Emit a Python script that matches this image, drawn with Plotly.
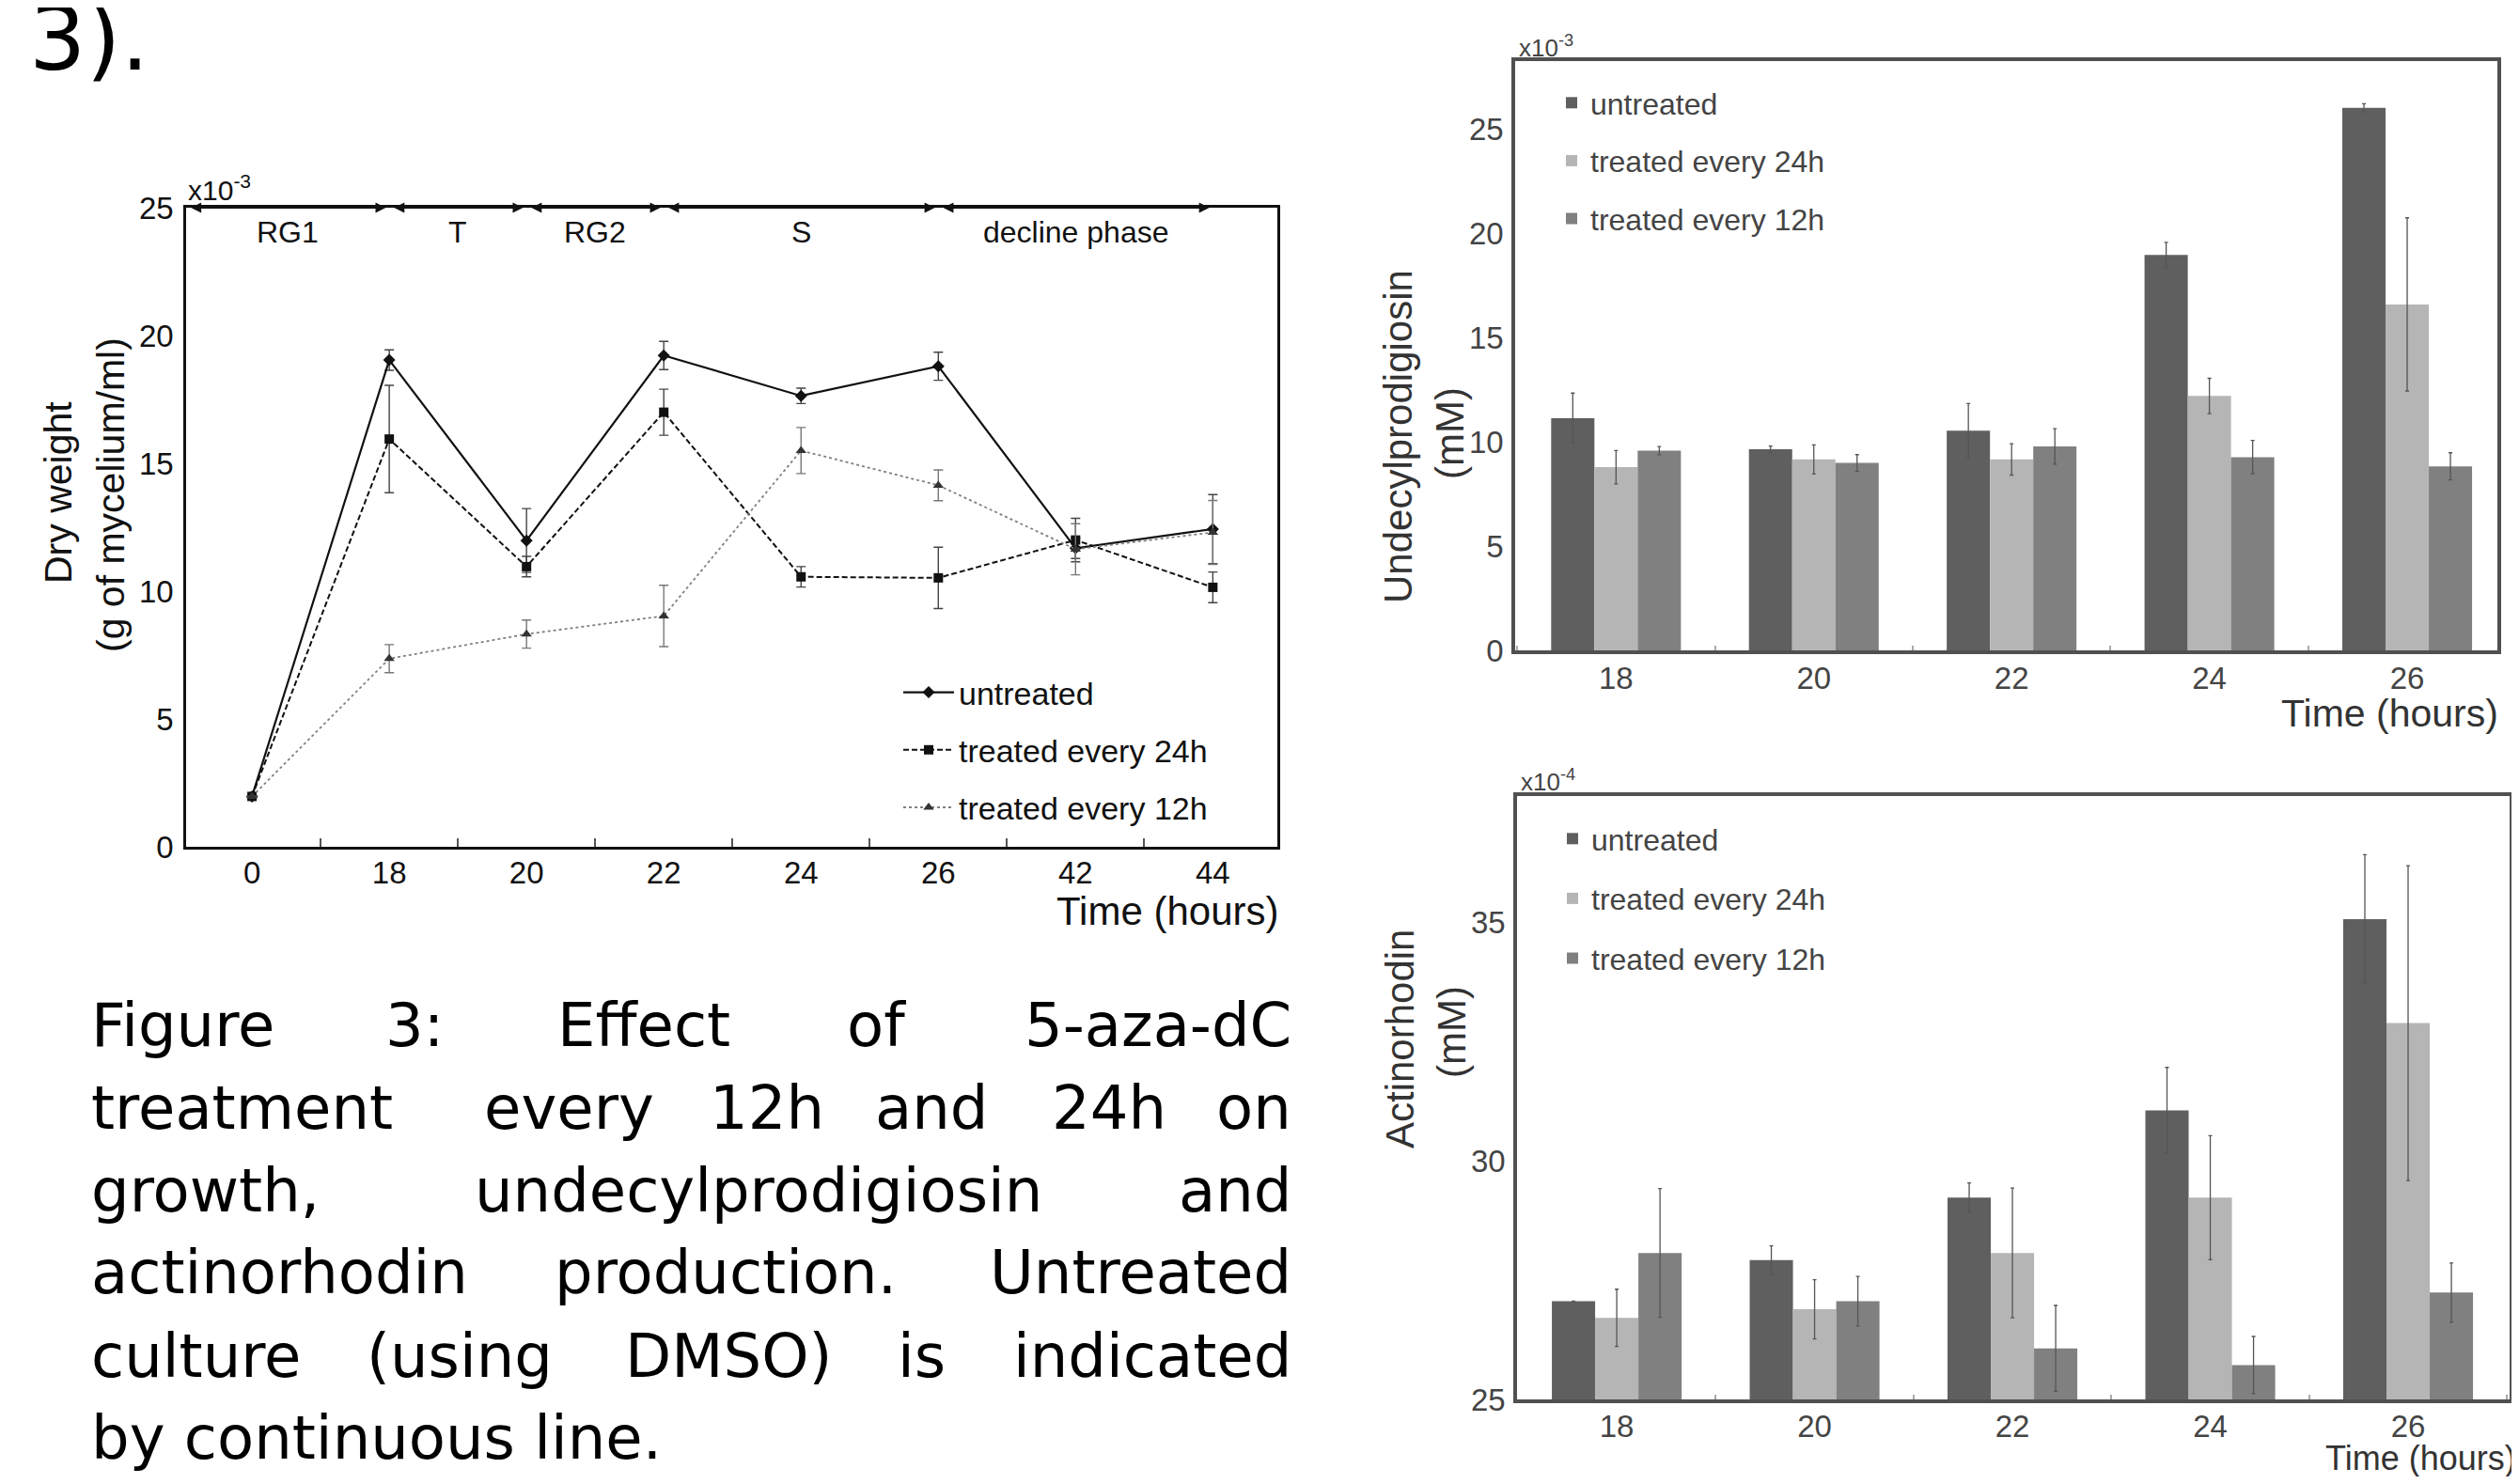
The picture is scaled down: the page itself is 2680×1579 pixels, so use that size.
import plotly.graph_objects as go

# page is 2680x1579; the html body keeps an 8px margin, so the figure is
# drawn 16px smaller and all reference pixel positions are shifted by 8px.
PAGE_W, PAGE_H = 2680, 1579
OFF = 8
W, H = PAGE_W - 2 * OFF, PAGE_H - 2 * OFF

# ---------------- data ----------------
growth_times = ["0", "18", "20", "22", "24", "26", "42", "44"]
growth_untreated = [1.97, 19.04, 11.98, 19.22, 17.64, 18.80, 11.68, 12.43]
growth_untreated_err = [0.0, 0.4, 1.25, 0.55, 0.3, 0.55, 0.4, 1.35]
growth_24h = [1.97, 15.95, 10.96, 17.00, 10.56, 10.52, 12.00, 10.15]
growth_24h_err = [0.0, 2.1, 0.4, 0.9, 0.4, 1.2, 0.85, 0.6]
growth_12h = [1.97, 7.36, 8.32, 9.03, 15.50, 14.14, 11.64, 12.30]
growth_12h_err = [0.0, 0.55, 0.55, 1.2, 0.9, 0.6, 1.0, 1.25]

phase_labels = ["RG1", "T", "RG2", "S", "decline phase"]
phase_ends = ["18", "20", "22", "26", "44"]

bar_times = ["18", "20", "22", "24", "26"]
undec_untreated = [11.13, 9.64, 10.53, 18.95, 26.0]
undec_untreated_err = [1.2, 0.15, 1.3, 0.6, 0.2]
undec_24h = [8.78, 9.15, 9.15, 12.19, 16.58]
undec_24h_err = [0.8, 0.7, 0.75, 0.85, 4.15]
undec_12h = [9.57, 8.98, 9.77, 9.26, 8.82]
undec_12h_err = [0.2, 0.4, 0.85, 0.8, 0.65]

act_untreated = [27.06, 27.92, 29.23, 31.06, 35.07]
act_untreated_err = [0.0, 0.3, 0.31, 0.9, 1.35]
act_24h = [26.71, 26.89, 28.07, 29.23, 32.89]
act_24h_err = [0.6, 0.62, 1.36, 1.3, 3.3]
act_12h = [28.07, 27.06, 26.07, 25.72, 27.24]
act_12h_err = [1.35, 0.52, 0.9, 0.6, 0.62]

series_names = ["untreated", "treated every 24h", "treated every 12h"]

caption_lines = [
    ["Figure", "3:", "Effect", "of", "5-aza-dC"],
    ["treatment", "every", "12h", "and", "24h", "on"],
    ["growth,", "undecylprodigiosin", "and"],
    ["actinorhodin", "production.", "Untreated"],
    ["culture", "(using", "DMSO)", "is", "indicated"],
    ["by continuous line."],
]

# ---------------- layout helpers ----------------
def px(x):
    return (x - OFF) / W

def py(y):
    return 1 - (y - OFF) / H

ARIAL = "Liberation Sans, Arial, sans-serif"
CAPFONT = "DejaVu Sans, sans-serif"

fig = go.Figure()

# ---------------- left: growth line chart ----------------
line_styles = [
    dict(color="#111111", width=2.2, dash="solid"),
    dict(color="#111111", width=2.0, dash="6px,3px"),
    dict(color="#808080", width=1.8, dash="dot"),
]
marker_styles = [
    dict(symbol="diamond", size=10, color="#111111"),
    dict(symbol="square", size=10, color="#111111"),
    dict(symbol="triangle-up", size=10, color="#333333"),
]
err_colors = ["#444444", "#444444", "#777777"]
for i, (vals, errs) in enumerate([(growth_untreated, growth_untreated_err),
                                  (growth_24h, growth_24h_err),
                                  (growth_12h, growth_12h_err)]):
    fig.add_trace(go.Scatter(
        x=growth_times, y=vals, mode="lines+markers", name=series_names[i],
        line=line_styles[i], marker=marker_styles[i],
        error_y=dict(type="data", array=errs, visible=True, thickness=1.4,
                     width=5, color=err_colors[i]),
        xaxis="x", yaxis="y", legend="legend", legendgroup="g%d" % i,
    ))

# ---------------- right: bar charts ----------------
bar_colors = ["#5f5f5f", "#b5b5b5", "#808080"]
for i, (vals, errs) in enumerate([(undec_untreated, undec_untreated_err),
                                  (undec_24h, undec_24h_err),
                                  (undec_12h, undec_12h_err)]):
    fig.add_trace(go.Bar(
        x=bar_times, y=vals, name=series_names[i], marker_color=bar_colors[i],
        marker_line_width=0,
        error_y=dict(type="data", array=errs, visible=True, thickness=1.3,
                     width=2, color="#555555"),
        xaxis="x2", yaxis="y2", legend="legend2", legendgroup="b%d" % i,
    ))
for i, (vals, errs) in enumerate([(act_untreated, act_untreated_err),
                                  (act_24h, act_24h_err),
                                  (act_12h, act_12h_err)]):
    fig.add_trace(go.Bar(
        x=bar_times, y=vals, name=series_names[i], marker_color=bar_colors[i],
        marker_line_width=0,
        error_y=dict(type="data", array=errs, visible=True, thickness=1.3,
                     width=2, color="#555555"),
        xaxis="x3", yaxis="y3", legend="legend3", legendgroup="c%d" % i,
    ))

annotations = []

def note(x, y, text, size, color="#111111", family=ARIAL, xa="center",
         ya="middle", angle=0):
    return dict(x=px(x), y=py(y), xref="paper", yref="paper", xanchor=xa,
                yanchor=ya, text=text, showarrow=False, textangle=angle,
                font=dict(family=family, size=size, color=color))

# phase arrows along the top border of the growth chart
x_left = -0.48
start = x_left
for lab, end in zip(phase_labels, phase_ends):
    e = growth_times.index(end)
    annotations.append(dict(
        x=e - 0.025, y=25, ax=start + 0.025, ay=25, xref="x", yref="y",
        axref="x", ayref="y", text="", showarrow=True, arrowhead=2,
        arrowside="end+start", arrowwidth=2, arrowsize=1.1,
        arrowcolor="#111111", standoff=0, startstandoff=0))
    annotations.append(dict(
        x=(start + e) / 2, y=24.05, xref="x", yref="y", text=lab,
        xanchor="center", yanchor="middle",
        showarrow=False, font=dict(family=ARIAL, size=32, color="#111111")))
    start = e

# growth chart texts
annotations += [
    note(198, 200, "x10<sup>-3</sup>", 30, xa="left"),
    note(1362, 969, "Time (hours)", 42, xa="right"),
    note(62, 524, "Dry weight", 41, angle=-90),
    note(118, 527, "(g of mycelium/ml)", 41, angle=-90),
]

# bar chart texts
annotations += [
    note(1614, 50, "x10<sup>-3</sup>", 26, color="#444444", xa="left"),
    note(2660, 759, "Time (hours)", 41, color="#333333", xa="right"),
    note(1487, 465, "Undecylprodigiosin", 42, color="#333333", angle=-90),
    note(1542, 461, "(mM)", 42, color="#333333", angle=-90),
    note(1616, 830, "x10<sup>-4</sup>", 26, color="#444444", xa="left"),
    note(2679, 1551, "Time (hours)", 36, color="#333333", xa="right"),
    note(1489, 1106, "Actinorhodin", 42, color="#333333", angle=-90),
    note(1544, 1098, "(mM)", 42, color="#333333", angle=-90),
]

# page text: "3)." and justified caption
annotations.append(note(95, 41, "3).", 95, color="black", family=CAPFONT))

cap_left, cap_right = 95, 1376
cap_y = [1091, 1179, 1267, 1354, 1443, 1530]
cap_word_centers = [
    [None, 441, 685, 932, None],
    [None, 605, 816, 991, 1180, None],
    [None, 807, None],
    [None, 772, None],
    [None, 489, 775, 980, None],
    [None],
]
for words, centers, yy in zip(caption_lines, cap_word_centers, cap_y):
    n = len(words)
    for k, (w, c) in enumerate(zip(words, centers)):
        if k == 0:
            xx, anc = cap_left, "left"
        elif k == n - 1:
            xx, anc = cap_right, "right"
        else:
            xx, anc = c, "center"
        annotations.append(note(xx, yy, w, 64, color="black",
                                family=CAPFONT, xa=anc))

# ---------------- axes ----------------
frame_left = dict(showline=True, linecolor="#111111", linewidth=2.5, mirror=True,
                  showgrid=False, zeroline=False, automargin=False)
frame_bar = dict(showline=True, linecolor="#505050", linewidth=3.5, mirror=True,
                 showgrid=False, zeroline=False, automargin=False)

fig.update_layout(
    width=W, height=H, margin=dict(l=0, r=0, t=0, b=0, autoexpand=False),
    paper_bgcolor="white", plot_bgcolor="white",
    barmode="group", bargap=0.344, bargroupgap=0,
    xaxis=dict(domain=[px(198), px(1359)], anchor="y", type="category",
               range=[x_left, 7.47], ticks="inside", tickson="boundaries",
               ticklen=9, tickwidth=1.5, tickcolor="#555555",
               ticklabelstandoff=-3,
               tickfont=dict(family=ARIAL, size=33, color="#111111"),
               **frame_left),
    yaxis=dict(domain=[py(901), py(221)], anchor="x", range=[0, 25],
               tickvals=[0, 5, 10, 15, 20, 25], ticks="",
               ticklabelstandoff=4,
               tickfont=dict(family=ARIAL, size=33, color="#111111"),
               **frame_left),
    xaxis2=dict(domain=[px(1612), px(2657)], anchor="y2", type="category",
                range=[-0.51, 4.456], ticks="inside", tickson="boundaries",
                ticklen=5, tickwidth=1.5, tickcolor="#aaaaaa",
                ticklabelstandoff=-2,
                tickfont=dict(family=ARIAL, size=33, color="#444444"),
                **frame_bar),
    yaxis2=dict(domain=[py(692), py(65)], anchor="x2", range=[0, 28.24],
                tickvals=[0, 5, 10, 15, 20, 25], ticks="",
                ticklabelstandoff=2,
                tickfont=dict(family=ARIAL, size=33, color="#444444"),
                **frame_bar),
    xaxis3=dict(domain=[px(1614), px(2670)], anchor="y3", type="category",
                range=[-0.504, 4.513], ticks="inside", tickson="boundaries",
                ticklen=5, tickwidth=1.5, tickcolor="#aaaaaa",
                ticklabelstandoff=-3,
                tickfont=dict(family=ARIAL, size=33, color="#444444"),
                **frame_bar),
    yaxis3=dict(domain=[py(1489), py(847)], anchor="x3", range=[25, 37.65],
                tickvals=[25, 30, 35], ticks="",
                ticklabelstandoff=2,
                tickfont=dict(family=ARIAL, size=33, color="#444444"),
                **frame_bar),
    legend=dict(x=px(956), y=py(708), xanchor="left", yanchor="top",
                bgcolor="rgba(0,0,0,0)", itemwidth=54, tracegroupgap=14,
                traceorder="grouped",
                font=dict(family=ARIAL, size=34, color="#111111")),
    legend2=dict(x=px(1652), y=py(82), xanchor="left", yanchor="top",
                 bgcolor="rgba(0,0,0,0)", tracegroupgap=17,
                 traceorder="grouped",
                 font=dict(family=ARIAL, size=32, color="#444444")),
    legend3=dict(x=px(1653), y=py(865), xanchor="left", yanchor="top",
                 bgcolor="rgba(0,0,0,0)", tracegroupgap=19,
                 traceorder="grouped",
                 font=dict(family=ARIAL, size=32, color="#444444")),
    annotations=annotations,
    showlegend=True,
)

fig.write_html("out.html")
